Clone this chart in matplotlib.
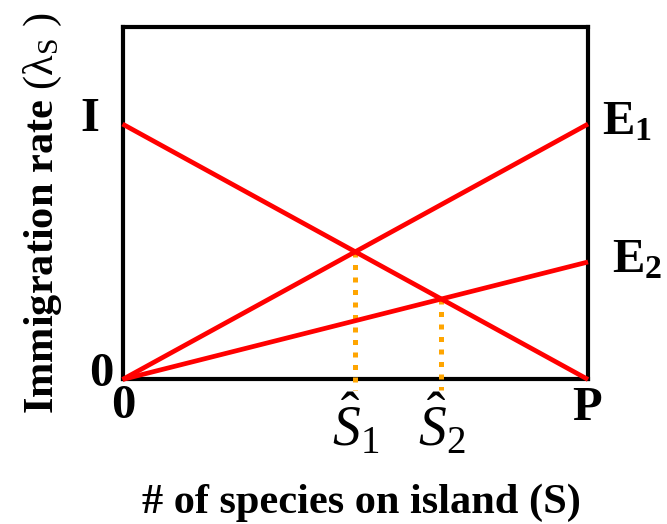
import matplotlib
matplotlib.use("Agg")
import matplotlib.pyplot as plt

plt.rcParams["font.family"] = ["Liberation Serif", "DejaVu Serif"]
plt.rcParams["mathtext.fontset"] = "custom"
plt.rcParams["mathtext.rm"] = "Liberation Serif"
plt.rcParams["mathtext.it"] = "Liberation Serif:italic"
plt.rcParams["mathtext.bf"] = "Liberation Serif:bold"

# Model values (S scaled so that P = 1, rates scaled so that I = 1)
I_rate = 1.0
P_pool = 1.0
E1_rate = 1.0
E2_rate = 0.46
y_top = 1.38

# equilibria where immigration equals extinction
S1 = I_rate / (I_rate / P_pool + E1_rate / P_pool)
S2 = I_rate / (I_rate / P_pool + E2_rate / P_pool)
lam1 = I_rate * (1 - S1 / P_pool)
lam2 = I_rate * (1 - S2 / P_pool)

fig = plt.figure(figsize=(6.67, 5.24), dpi=100)
ax = fig.add_axes([0.1837, 0.2758, 0.6979, 0.6727])

red = "#FF0000"
orange = "#FFA500"
lw = 3.4

ax.plot([0, P_pool], [I_rate, 0], color=red, lw=lw, clip_on=False, solid_capstyle="butt")
ax.plot([0, P_pool], [0, E1_rate], color=red, lw=lw, clip_on=False, solid_capstyle="butt")
ax.plot([0, P_pool], [0, E2_rate], color=red, lw=lw, clip_on=False, solid_capstyle="butt")

for s, lam in [(S1, lam1), (S2, lam2)]:
    ax.plot([s, s], [lam, -0.04], color=orange, lw=3.6, linestyle=(0, (1.0, 1.5)),
            clip_on=False, zorder=1)

ax.set_xlim(0, P_pool)
ax.set_ylim(0, y_top)
ax.set_xticks([])
ax.set_yticks([])
for sp in ax.spines.values():
    sp.set_linewidth(3)
    sp.set_color("black")
    sp.set_zorder(0.5)

fs = 35
kw = dict(fontsize=fs, fontweight="bold", clip_on=False)
ax.text(-0.071, 1.02, "I", ha="center", va="center", **kw)
ax.text(-0.046, 0.02, "0", ha="center", va="center", **kw)
ax.text(0.002, -0.105, "0", ha="center", va="center", **kw)
ax.text(0.998, -0.11, "P", ha="center", va="center", **kw)
ax.text(1.03, 0.959, r"$\mathbf{E}_\mathbf{1}$", ha="left", va="baseline", **kw)
ax.text(1.051, 0.418, r"$\mathbf{E}_\mathbf{2}$", ha="left", va="baseline", **kw)

ax.text(S1, -0.262, r"$\hat{S}_1$", ha="center", va="baseline", fontsize=40, clip_on=False)
ax.text(S2, -0.262, r"$\hat{S}_2$", ha="center", va="baseline", fontsize=40, clip_on=False)

fig.text(361 / 667, 0.021, "# of species on island (S)", ha="center", va="baseline",
         fontsize=30.5, fontweight="bold")
fig.text(53 / 667, 0.5935, r"Immigration rate $(\mathrm{\lambda}_{\rm S}\ )$", rotation=90,
         rotation_mode="anchor", ha="center", va="baseline", fontsize=30.5, fontweight="bold")

fig.savefig("out.png", dpi=100)
